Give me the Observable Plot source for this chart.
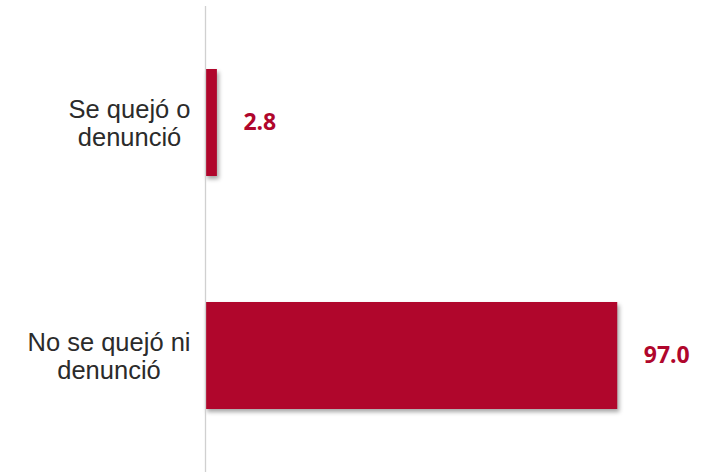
<!DOCTYPE html>
<html>
<head>
<meta charset="utf-8">
<script src="https://cdn.jsdelivr.net/npm/d3@7"></script>
<script src="https://cdn.jsdelivr.net/npm/@observablehq/plot@0.6"></script>
<style>
  html, body { margin: 0; padding: 0; background: #fff; }
  #chart svg { display: block; }
</style>
</head>
<body>
<div id="chart"></div>
<script>
const categories = ["Se quejó o denunció", "No se quejó ni denunció"];
const tickLabels = ["Se quejó o\ndenunció", "No se quejó ni\ndenunció"];
const values = [2.8, 97.0];
const valueLabels = ["2.8", "97.0"];

const data = categories.map((c, i) => ({cat: c, label: tickLabels[i], value: values[i], text: valueLabels[i]}));
const red = "#B0062C";

const chart = Plot.plot({
  width: 714,
  height: 472,
  marginLeft: 205,
  marginRight: 84,
  marginTop: 6,
  marginBottom: 0,
  x: {domain: [0, 100], axis: null},
  y: {domain: categories, axis: null, paddingInner: 0.54, paddingOuter: 0.27},
  marks: [
    Plot.barX(data, {x: "value", y: "cat", fill: red}),
    Plot.ruleX([0], {stroke: "#d0d0d0", strokeWidth: 1.3}),
    Plot.text(data, {x: 0, y: "cat", text: "label", textAnchor: "end", dx: -15, fontSize: 25.5, lineHeight: 1.1, fill: "#2b2b2b", fontFamily: "Liberation Sans, Arial, sans-serif"}),
    Plot.text(data, {x: "value", y: "cat", text: "text", textAnchor: "start", dx: 26, fontSize: 23, fontWeight: "bold", fill: red, fontFamily: "Open Sans, sans-serif"})
  ]
});

d3.select(chart).selectAll("g[aria-label='bar'] rect")
  .style("filter", "drop-shadow(2px 3px 2px rgba(0,0,0,0.35))");

document.getElementById("chart").appendChild(chart);

// center the lines of each multi-line category label, keeping its right edge
const textGroups = d3.select(chart).selectAll("g[aria-label='text']").nodes();
d3.select(textGroups[0]).selectAll("text").each(function() {
  const t = this;
  const bb = t.getBBox();
  const cx = bb.x + bb.width / 2;
  t.setAttribute("text-anchor", "middle");
  d3.select(t).selectAll("tspan").attr("x", cx);
  if (!t.querySelector("tspan")) t.setAttribute("x", cx);
});
</script>
</body>
</html>
